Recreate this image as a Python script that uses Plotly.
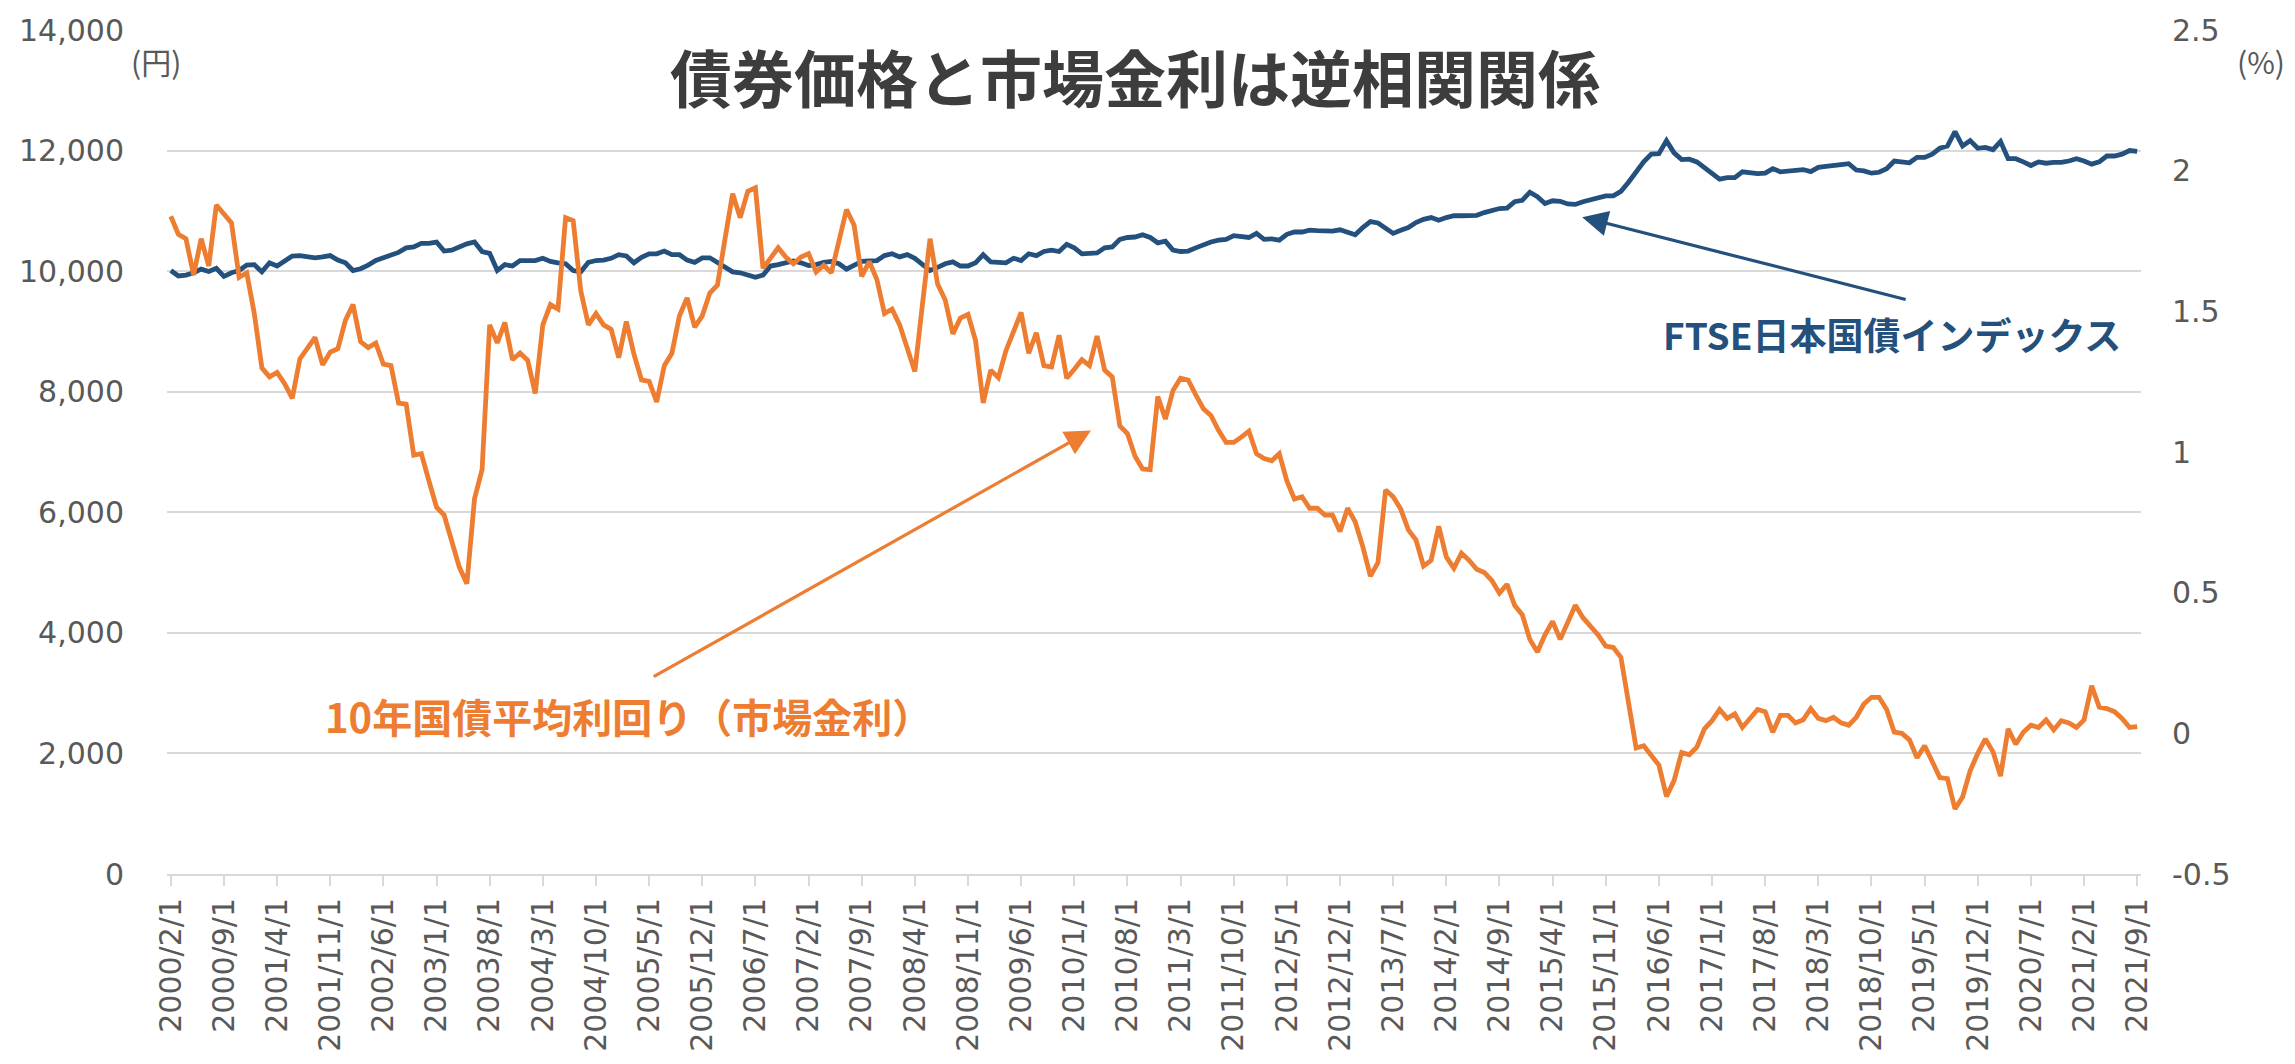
import plotly.graph_objects as go

# ---------------- data ----------------
# monthly categories 2000/2/1 .. 2021/9/1
DATES = []
_y, _m = 2000, 2
for _ in range(260):
    DATES.append(f"{_y}/{_m}/1")
    _m += 1
    if _m > 12:
        _m = 1
        _y += 1

TICK_LABELS = [
    "2000/2/1", "2000/9/1", "2001/4/1", "2001/11/1", "2002/6/1", "2003/1/1", "2003/8/1",
    "2004/3/1", "2004/10/1", "2005/5/1", "2005/12/1", "2006/7/1", "2007/2/1", "2007/9/1",
    "2008/4/1", "2008/11/1", "2009/6/1", "2010/1/1", "2010/8/1", "2011/3/1", "2011/10/1",
    "2012/5/1", "2012/12/1", "2013/7/1", "2014/2/1", "2014/9/1", "2015/4/1", "2015/11/1",
    "2016/6/1", "2017/1/1", "2017/8/1", "2018/3/1", "2018/10/1", "2019/5/1", "2019/12/1",
    "2020/7/1", "2021/2/1", "2021/9/1",
]

# FTSE Japan government bond index (yen, left axis)
FTSE_INDEX = [
    10010, 9920, 9935, 9973, 10033, 9995, 10048, 9913, 9973, 10010,
    10100, 10108, 9988, 10138, 10085, 10161, 10251, 10258, 10236, 10221,
    10236, 10258, 10183, 10138, 10010, 10040, 10100, 10176, 10221, 10273,
    10311, 10386, 10401, 10461, 10461, 10483, 10333, 10348, 10401, 10453,
    10483, 10326, 10296, 10010, 10108, 10085, 10176, 10176, 10176, 10213,
    10161, 10138, 10123, 10010, 9988, 10146, 10176, 10183, 10213, 10273,
    10251, 10138, 10228, 10288, 10288, 10333, 10273, 10273, 10183, 10146,
    10221, 10221, 10138, 10048, 9988, 9973, 9928, 9898, 9935, 10085,
    10108, 10138, 10168, 10138, 10093, 10108, 10146, 10161, 10123, 10033,
    10108, 10161, 10168, 10176, 10258, 10288, 10236, 10273, 10213, 10108,
    10010, 10063, 10123, 10153, 10085, 10085, 10138, 10273, 10153, 10146,
    10138, 10213, 10176, 10288, 10258, 10326, 10348, 10326, 10446, 10386,
    10288, 10296, 10303, 10386, 10401, 10528, 10558, 10566, 10603, 10558,
    10470, 10498, 10348, 10326, 10333, 10386, 10438, 10483, 10513, 10528,
    10588, 10573, 10558, 10626, 10528, 10536, 10513, 10611, 10649, 10649,
    10679, 10671, 10671, 10664, 10686, 10649, 10603, 10724, 10821, 10799,
    10701, 10626, 10679, 10724, 10806, 10859, 10889, 10844, 10889, 10919,
    10919, 10919, 10926, 10971, 11009, 11039, 11046, 11152, 11174, 11309,
    11234, 11122, 11167, 11159, 11114, 11107, 11152, 11189, 11227, 11249,
    11249, 11324, 11474, 11640, 11812, 11940, 11947, 12165, 11962, 11850,
    11857, 11812, 11715, 11625, 11527, 11550, 11550, 11647, 11625, 11617,
    11625, 11700, 11647, 11655, 11670, 11685, 11650, 11722, 11737, 11760,
    11767, 11782, 11677, 11662, 11625, 11640, 11700, 11827, 11812, 11797,
    11887, 11887, 11940, 12038, 12075, 12315, 12075, 12165, 12038, 12053,
    12015, 12150, 11865, 11865, 11812, 11752, 11812, 11790, 11805, 11805,
    11827, 11865, 11827, 11775, 11812, 11910, 11910, 11940, 12000, 11985,
]

# 10-year JGB average yield (%, right axis)
JGB10_YIELD = [
    1.838, 1.774, 1.758, 1.629, 1.758, 1.661, 1.878, 1.846, 1.814, 1.621,
    1.637, 1.492, 1.299, 1.267, 1.283, 1.243, 1.191, 1.331, 1.371, 1.407,
    1.310, 1.355, 1.367, 1.468, 1.524, 1.392, 1.371, 1.387, 1.312, 1.307,
    1.174, 1.170, 0.989, 0.994, 0.897, 0.804, 0.776, 0.688, 0.591, 0.532,
    0.833, 0.937, 1.452, 1.388, 1.460, 1.328, 1.352, 1.326, 1.208, 1.452,
    1.524, 1.508, 1.833, 1.822, 1.573, 1.452, 1.492, 1.452, 1.436, 1.335,
    1.464, 1.348, 1.256, 1.251, 1.178, 1.307, 1.351, 1.484, 1.548, 1.444,
    1.484, 1.565, 1.593, 1.758, 1.918, 1.833, 1.927, 1.939, 1.653, 1.689,
    1.726, 1.693, 1.669, 1.693, 1.705, 1.640, 1.664, 1.637, 1.750, 1.862,
    1.806, 1.624, 1.677, 1.613, 1.492, 1.508, 1.452, 1.371, 1.286, 1.524,
    1.758, 1.597, 1.540, 1.420, 1.476, 1.489, 1.396, 1.174, 1.291, 1.264,
    1.360, 1.428, 1.496, 1.351, 1.424, 1.307, 1.302, 1.415, 1.262, 1.294,
    1.328, 1.307, 1.412, 1.291, 1.267, 1.093, 1.066, 0.985, 0.940, 0.937,
    1.197, 1.117, 1.219, 1.262, 1.256, 1.203, 1.154, 1.130, 1.077, 1.034,
    1.034, 1.053, 1.074, 0.994, 0.977, 0.969, 0.994, 0.897, 0.833, 0.841,
    0.800, 0.800, 0.776, 0.776, 0.717, 0.800, 0.752, 0.664, 0.559, 0.607,
    0.865, 0.841, 0.797, 0.723, 0.688, 0.595, 0.615, 0.736, 0.627, 0.587,
    0.640, 0.615, 0.583, 0.572, 0.543, 0.498, 0.530, 0.455, 0.422, 0.334,
    0.289, 0.350, 0.398, 0.334, 0.395, 0.455, 0.411, 0.379, 0.350, 0.310,
    0.305, 0.270, 0.109, -0.052, -0.044, -0.076, -0.113, -0.224, -0.168, -0.068,
    -0.076, -0.049, 0.016, 0.045, 0.085, 0.053, 0.069, 0.021, 0.053, 0.085,
    0.077, 0.004, 0.064, 0.064, 0.037, 0.048, 0.088, 0.053, 0.045, 0.057,
    0.037, 0.029, 0.057, 0.104, 0.128, 0.128, 0.085, 0.004, 0.000, -0.023,
    -0.087, -0.044, -0.100, -0.157, -0.161, -0.269, -0.226, -0.133, -0.071, -0.020,
    -0.065, -0.152, 0.016, -0.039, 0.004, 0.029, 0.021, 0.048, 0.012, 0.045,
    0.037, 0.021, 0.048, 0.169, 0.093, 0.088, 0.077, 0.053, 0.021, 0.024,
]

TITLE = "債券価格と市場金利は逆相関関係"
LABEL_FTSE = "FTSE日本国債インデックス"
LABEL_JGB = "10年国債平均利回り（市場金利）"

BLUE = "#23507d"
ORANGE = "#ED7D31"
GRID = "#d9d9d9"
TICK_COLOR = "#595959"
TICK_FONT = dict(family="DejaVu Sans", size=30, color=TICK_COLOR)
JP_FONT = "Noto Sans CJK JP"

# ---------------- figure ----------------
fig = go.Figure()
fig.add_trace(go.Scatter(
    x=DATES, y=FTSE_INDEX, mode="lines", name=LABEL_FTSE,
    line=dict(color=BLUE, width=4.8), yaxis="y", hoverinfo="skip",
))
fig.add_trace(go.Scatter(
    x=DATES, y=JGB10_YIELD, mode="lines", name=LABEL_JGB,
    line=dict(color=ORANGE, width=4.8), yaxis="y2", hoverinfo="skip",
))

L, R, T, B = 167, 154, 29, 178
W, H = 2295, 1064
pw = W - L - R
ph = H - T - B


def px_x(x):
    return (x - L) / pw


def px_y(y):
    return (H - B - y) / ph


annotations = [
    dict(text=f"<b>{TITLE}</b>", xref="paper", yref="paper",
         x=px_x(1135), y=px_y(76), showarrow=False,
         font=dict(family=JP_FONT, size=62, color="#3d3d3d"),
         xanchor="center", yanchor="middle"),
    dict(text=f"<b>{LABEL_FTSE}</b>", xref="paper", yref="paper",
         x=px_x(1892), y=px_y(338), showarrow=False,
         font=dict(family=JP_FONT, size=37, color=BLUE),
         xanchor="center", yanchor="middle"),
    dict(text=f"<b>{LABEL_JGB}</b>", xref="paper", yref="paper",
         x=px_x(628), y=px_y(726), showarrow=False,
         font=dict(family=JP_FONT, size=40, color=ORANGE),
         xanchor="center", yanchor="middle"),
    dict(text="(円)", xref="paper", yref="paper",
         x=px_x(156), y=px_y(60), showarrow=False,
         font=dict(family=JP_FONT, size=30, color=TICK_COLOR),
         xanchor="center", yanchor="middle"),
    dict(text="(%)", xref="paper", yref="paper",
         x=px_x(2261), y=px_y(60), showarrow=False,
         font=dict(family=JP_FONT, size=30, color=TICK_COLOR),
         xanchor="center", yanchor="middle"),
    # arrows (head at x,y ; tail at ax,ay)
    dict(text="", xref="x", yref="y", axref="x", ayref="y",
         x=185.9, y=10896, ax=228.7, ay=9524,
         showarrow=True, arrowhead=2, arrowsize=1.6, arrowwidth=3.2,
         arrowcolor=BLUE, standoff=0, startstandoff=0),
    dict(text="", xref="x", yref="y", axref="x", ayref="y",
         x=121.2, y=7358, ax=63.4, ay=3259,
         showarrow=True, arrowhead=2, arrowsize=1.6, arrowwidth=3.2,
         arrowcolor=ORANGE, standoff=0, startstandoff=0),
]

fig.update_layout(
    width=W, height=H,
    margin=dict(l=L, r=R, t=T, b=B, pad=0),
    paper_bgcolor="white", plot_bgcolor="white",
    showlegend=False,
    annotations=annotations,
    xaxis=dict(
        type="category",
        range=[-0.5, 259.5],
        tickmode="array", tickvals=TICK_LABELS, ticktext=TICK_LABELS,
        tickangle=-90, tickfont=TICK_FONT,
        showgrid=False, zeroline=False,
        showline=True, linecolor=GRID, linewidth=2,
        ticks="outside", ticklen=10, tickcolor=GRID, tickwidth=2,
    ),
    yaxis=dict(
        range=[0, 14000], tickmode="array",
        tickvals=[0, 2000, 4000, 6000, 8000, 10000, 12000, 14000],
        ticktext=["0", "2,000", "4,000", "6,000", "8,000", "10,000", "12,000", "14,000"],
        tickfont=TICK_FONT, showgrid=True, gridcolor=GRID, gridwidth=2,
        zeroline=False, showline=False, ticks="", ticklabelstandoff=42,
    ),
    yaxis2=dict(
        range=[-0.5, 2.5], overlaying="y", side="right", tickmode="array",
        tickvals=[-0.5, 0, 0.5, 1, 1.5, 2, 2.5],
        ticktext=["-0.5", "0", "0.5", "1", "1.5", "2", "2.5"],
        tickfont=TICK_FONT, showgrid=False, zeroline=False, showline=False,
        ticks="", ticklabelstandoff=30,
    ),
)

fig.write_html(
    "out.html",
    config={"displayModeBar": False},
    post_script="document.body.style.margin='0';document.body.style.overflow='hidden';",
)
